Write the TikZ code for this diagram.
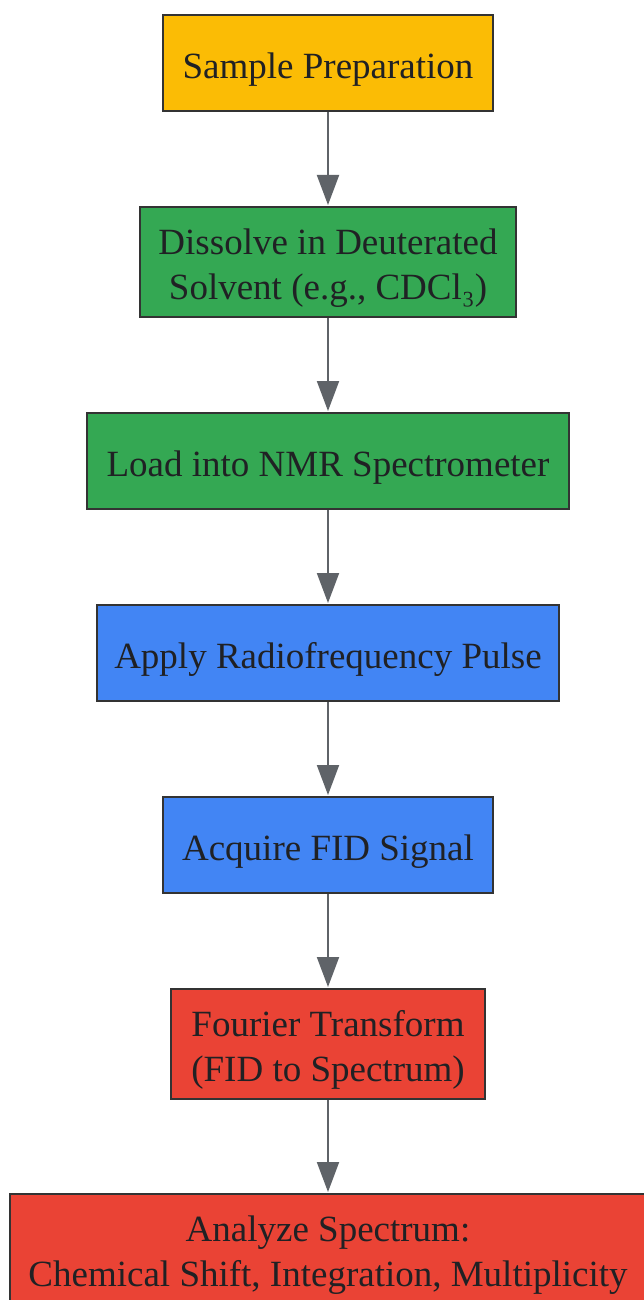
\documentclass[tikz,border=0pt]{standalone}
\usepackage{fontspec}
\setmainfont{Liberation Serif}
\usetikzlibrary{arrows.meta}
\definecolor{cyellow}{HTML}{FBBC05}
\definecolor{cgreen}{HTML}{34A853}
\definecolor{cblue}{HTML}{4285F4}
\definecolor{cred}{HTML}{EA4335}
\definecolor{cedge}{HTML}{333333}
\definecolor{carrow}{HTML}{5F6368}
\definecolor{ctext}{HTML}{202124}
\newcommand{\toppad}{\rule{0pt}{38pt}}
\tikzset{
  box/.style={draw=cedge, line width=2pt, text=ctext, align=center, inner sep=0pt,
    font=\fontsize{37}{45}\selectfont},
  flow/.style={draw=carrow, line width=2pt, -{Triangle[length=30pt,width=22pt]}, shorten >=1pt}
}
\begin{document}
\begin{tikzpicture}[x=1pt,y=-1pt]
\useasboundingbox (0,0) rectangle (644,1300);
\clip (0,0) rectangle (644,1300);
\fill[white] (0,0) rectangle (644,1300);
\node[box, fill=cyellow, minimum width=330pt, minimum height=96pt] (n1) at (328,63) {\toppad Sample Preparation};
\node[box, fill=cgreen, minimum width=376pt, minimum height=110pt] (n2) at (328,262) {\toppad Dissolve in Deuterated\\Solvent (e.g., CDCl₃)};
\node[box, fill=cgreen, minimum width=482pt, minimum height=96pt] (n3) at (328,461) {\toppad Load into NMR Spectrometer};
\node[box, fill=cblue, minimum width=462pt, minimum height=96pt] (n4) at (328,653) {\toppad Apply Radiofrequency Pulse};
\node[box, fill=cblue, minimum width=330pt, minimum height=96pt] (n5) at (328,845) {\toppad Acquire FID Signal};
\node[box, fill=cred, minimum width=314pt, minimum height=110pt] (n6) at (328,1044) {\toppad Fourier Transform\\(FID to Spectrum)};
\node[box, fill=cred, minimum width=636pt, minimum height=110pt] (n7) at (328,1249) {\toppad Analyze Spectrum:\\Chemical Shift, Integration, Multiplicity};
\draw[flow] (n1) -- (n2);
\draw[flow] (n2) -- (n3);
\draw[flow] (n3) -- (n4);
\draw[flow] (n4) -- (n5);
\draw[flow] (n5) -- (n6);
\draw[flow] (n6) -- (n7);
\end{tikzpicture}
\end{document}
